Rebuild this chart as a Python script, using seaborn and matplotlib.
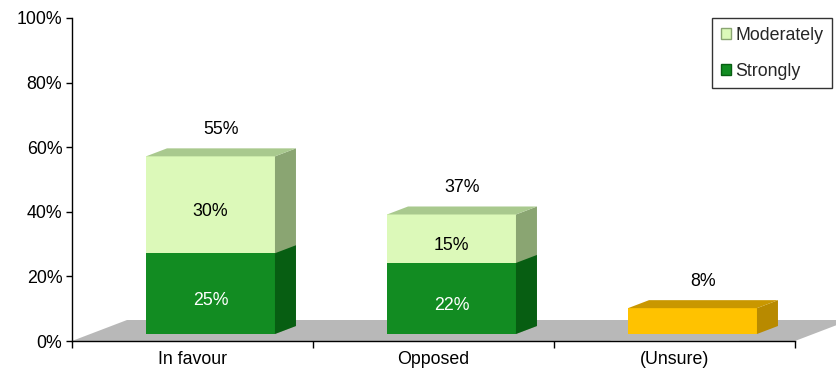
import numpy as np
import pandas as pd
import matplotlib
matplotlib.use("Agg")
import matplotlib.pyplot as plt
import seaborn as sns
from matplotlib.patches import Polygon, Patch
from matplotlib.ticker import PercentFormatter, FixedLocator

categories = ["In favour", "Opposed", "(Unsure)"]
moderately = [30, 15, 0]
strongly = [25, 22, 0]
totals = [55, 37, 8]
series_labels = ["Moderately", "Strongly"]
y_ticks = [0, 20, 40, 60, 80, 100]

LIGHT = "#dcf9b9"
LIGHT_TOP = "#a9c98e"
LIGHT_SIDE = "#8aa572"
DARK = "#128c22"
DARK_TOP = "#0e7a1c"
DARK_SIDE = "#075e12"
GOLD = "#ffc200"
GOLD_TOP = "#c99700"
GOLD_SIDE = "#b88a00"
FLOOR = "#b8b8b8"
FS = 12.8

sns.set_theme(style="white")
plt.rcParams["font.family"] = ["Liberation Sans", "DejaVu Sans"]

fig = plt.figure(figsize=(8.37, 3.74), dpi=100)
ax = fig.add_axes([72 / 837, 1 - 341 / 374, (795 - 72) / 837, (341 - 18) / 374])

df = pd.DataFrame({"cat": categories, "total": totals, "strong": strongly})

sns.barplot(data=df, x="cat", y="total", hue="cat", order=categories,
            palette=[LIGHT, LIGHT, GOLD], width=0.535, saturation=1,
            legend=False, ax=ax, zorder=3)
n_total = len(ax.patches)
sns.barplot(data=df, x="cat", y="strong", order=categories, color=DARK,
            width=0.535, saturation=1, ax=ax, zorder=4)

ax.set_xlim(-0.5, 2.5)
ax.set_ylim(0, 100)
fig.canvas.draw()

# px -> data conversions
p0 = ax.transData.transform((0, 0))
p1 = ax.transData.transform((1, 1))
sx = 1.0 / (p1[0] - p0[0])
sy = 1.0 / (p1[1] - p0[1])

front = (18 * sx, 7 * sy)
depth = (21 * sx, 8 * sy)
floor_depth = (55 * sx, 21 * sy)

# floor
ax.add_patch(Polygon([(-0.5, 0), (2.5, 0),
                      (2.5 + floor_depth[0], floor_depth[1]),
                      (-0.5 + floor_depth[0], floor_depth[1])],
                     closed=True, facecolor=FLOOR, edgecolor="none",
                     clip_on=False, zorder=1))

patches = list(ax.patches)
side_cols_total = [LIGHT_SIDE, LIGHT_SIDE, GOLD_SIDE]
top_cols_total = [LIGHT_TOP, LIGHT_TOP, GOLD_TOP]
for i, p in enumerate(patches[:2 * len(categories)]):
    h = p.get_height()
    if h <= 0:
        continue
    x, w, y = p.get_x(), p.get_width(), p.get_y()
    is_total = i < n_total
    k = i % len(categories)
    side_c = side_cols_total[k] if is_total else DARK_SIDE
    top_c = top_cols_total[k] if is_total else DARK_TOP
    z = 3 if is_total else 4
    x0, y0 = x + front[0], y + front[1]
    p.set_x(x0)
    p.set_y(y0)
    p.set_edgecolor("none")
    ax.add_patch(Polygon([(x0 + w, y0), (x0 + w, y0 + h),
                          (x0 + w + depth[0], y0 + h + depth[1]),
                          (x0 + w + depth[0], y0 + depth[1])],
                         closed=True, facecolor=side_c, edgecolor="none", zorder=z))
    if is_total:
        ax.add_patch(Polygon([(x0, y0 + h), (x0 + w, y0 + h),
                              (x0 + w + depth[0], y0 + h + depth[1]),
                              (x0 + depth[0], y0 + h + depth[1])],
                             closed=True, facecolor=top_c, edgecolor="none", zorder=z))

# labels
for i, cat in enumerate(categories):
    cx = i + front[0] + depth[0] / 2
    ax.text(cx, totals[i] + 34 * sy, f"{totals[i]}%", ha="center", va="center",
            fontsize=FS, color="black", zorder=6)
    if strongly[i] > 0:
        ax.text(i + front[0], strongly[i] / 2, f"{strongly[i]}%",
                ha="center", va="center", fontsize=FS, color="white", zorder=6)
    if moderately[i] > 0:
        ax.text(i + front[0], strongly[i] + moderately[i] / 2,
                f"{moderately[i]}%", ha="center", va="center", fontsize=FS,
                color="black", zorder=6)

ax.set_xlabel("")
ax.set_ylabel("")
ax.yaxis.set_major_locator(FixedLocator(y_ticks))
ax.yaxis.set_major_formatter(PercentFormatter(100, decimals=0))
ax.set_xticks(range(len(categories)))
ax.set_xticklabels(categories)
ax.set_xticks([-0.5, 0.5, 1.5, 2.5], minor=True)
ax.tick_params(axis="x", which="major", length=0, pad=7, labelsize=FS, colors="black")
ax.tick_params(axis="x", which="minor", length=5, width=1, color="black", bottom=True)
ax.tick_params(axis="y", length=4, width=1, color="black", left=True, labelsize=FS,
               labelcolor="black", pad=3)
for s in ["top", "right"]:
    ax.spines[s].set_visible(False)
for s in ["left", "bottom"]:
    ax.spines[s].set_color("black")
    ax.spines[s].set_linewidth(1)
    ax.spines[s].set_zorder(5)
ax.grid(False)

handles = [Patch(facecolor=LIGHT, edgecolor="#8aa572", label=series_labels[0]),
           Patch(facecolor=DARK, edgecolor="#075e12", label=series_labels[1])]
leg = fig.legend(handles=handles, loc="upper right",
                 bbox_to_anchor=(832 / 837, 1 - 18 / 374), fontsize=FS,
                 frameon=True, fancybox=False, edgecolor="black",
                 handlelength=0.55, handleheight=0.55, handletextpad=0.25,
                 labelspacing=1.05, borderpad=0.5, borderaxespad=0)
leg.get_frame().set_linewidth(1)

fig.savefig("out.png", dpi=100)
